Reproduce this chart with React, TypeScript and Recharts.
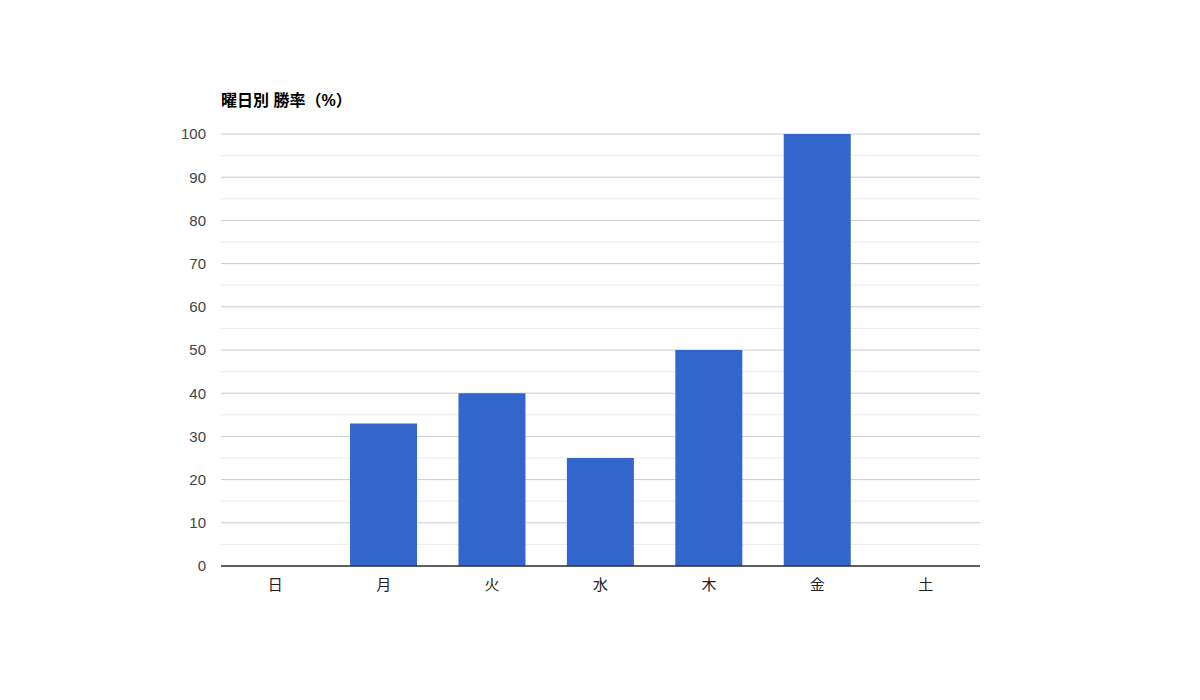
import React from "react";
import { BarChart, Bar, XAxis, YAxis, CartesianGrid, ReferenceLine } from "recharts";

const days = ["日", "月", "火", "水", "木", "金", "土"];
const winRates = [0, 33, 40, 25, 50, 100, 0];
const yTicks = [0, 10, 20, 30, 40, 50, 60, 70, 80, 90, 100];
const minorTicks = [5, 15, 25, 35, 45, 55, 65, 75, 85, 95];
const title = "曜日別 勝率（%）";

const data = days.map((d, i) => ({ day: d, rate: winRates[i] }));

const FONT = "Arial, 'Liberation Sans', 'Noto Sans CJK JP', sans-serif";

export default function App() {
  return (
    <div style={{ position: "relative", width: 1184, height: 684, fontFamily: FONT }}>
      <div
        style={{
          position: "absolute",
          left: 213,
          top: 84,
          fontSize: 16,
          fontWeight: "bold",
          color: "#000",
          fontFamily: FONT,
          lineHeight: "18px",
        }}
      >
        {title}
      </div>
      <BarChart
        width={1184}
        height={684}
        data={data}
        margin={{ top: 126, right: 212, bottom: 96, left: 153 }}
        barCategoryGap="19%"
      >
        <CartesianGrid
          horizontal
          vertical={false}
          stroke="#ebebeb"
          horizontalValues={minorTicks}
        />
        <CartesianGrid horizontal vertical={false} stroke="#cccccc" />
        <XAxis
          dataKey="day"
          axisLine={{ stroke: "#333333", strokeWidth: 1 }}
          tickLine={false}
          height={30}
          tick={{ fill: "#222222", fontSize: 15, fontFamily: FONT }}
          tickMargin={7}
          interval={0}
        />
        <YAxis
          domain={[0, 100]}
          ticks={yTicks}
          axisLine={false}
          tickLine={false}
          width={60}
          tick={{ fill: "#444444", fontSize: 15, fontFamily: FONT }}
          tickMargin={9}
          interval={0}
        />
        <Bar dataKey="rate" fill="#3366cc" isAnimationActive={false} />
        <ReferenceLine y={0} stroke="#333333" strokeWidth={1} />
      </BarChart>
    </div>
  );
}
